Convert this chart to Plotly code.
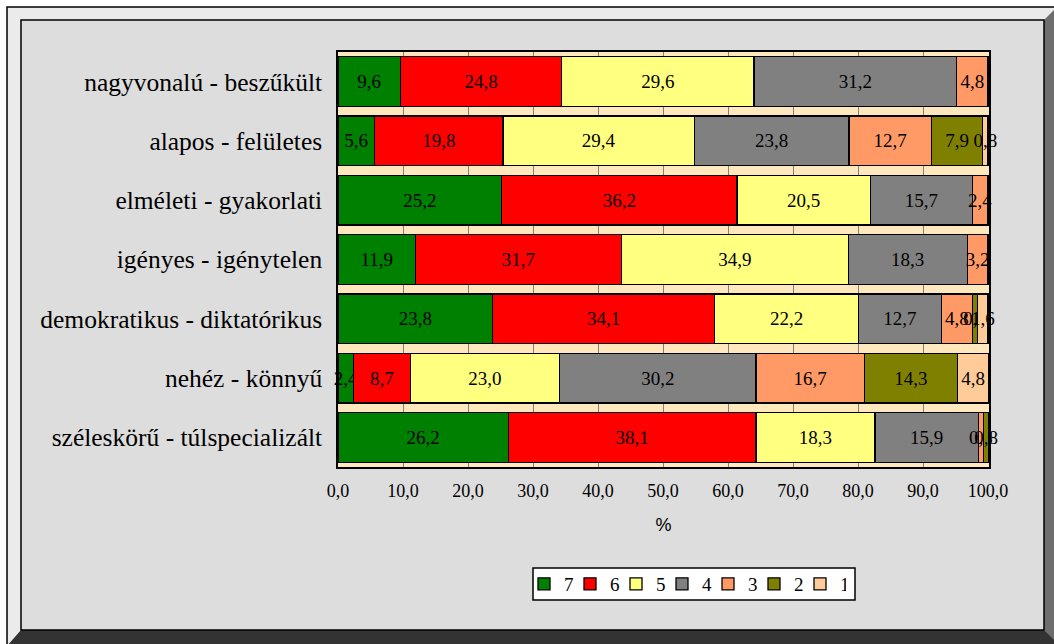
import plotly.graph_objects as go

# categories, top to bottom
categories = [
    "nagyvonalú - beszűkült",
    "alapos - felületes",
    "elméleti - gyakorlati",
    "igényes - igénytelen",
    "demokratikus - diktatórikus",
    "nehéz - könnyű",
    "széleskörű - túlspecializált",
]

# percentages per answer value (None = no bar)
s7 = [9.6, 5.6, 25.2, 11.9, 23.8, 2.4, 26.2]
s6 = [24.8, 19.8, 36.2, 31.7, 34.1, 8.7, 38.1]
s5 = [29.6, 29.4, 20.5, 34.9, 22.2, 23.0, 18.3]
s4 = [31.2, 23.8, 15.7, 18.3, 12.7, 30.2, 15.9]
s3 = [4.8, 12.7, 2.4, 3.2, 4.8, 16.7, 0.8]
s2 = [None, 7.9, None, None, 0.8, 14.3, 0.8]
s1 = [None, 0.8, None, None, 1.6, 4.8, None]

series = [("7", s7, "#008000"), ("6", s6, "#FF0000"), ("5", s5, "#FFFF80"),
          ("4", s4, "#808080"), ("3", s3, "#FF9966"), ("2", s2, "#808000"),
          ("1", s1, "#FFCC99")]

x_ticks = [0, 10, 20, 30, 40, 50, 60, 70, 80, 90, 100]

SERIF = "Liberation Serif"

# plot area in pixels (for the frame shapes)
PX0, PX1, PY0, PY1 = 338, 989, 52, 467


def fx(px):
    return (px - PX0) / (PX1 - PX0)


def fy(py):
    return (PY1 - py) / (PY1 - PY0)


def path(pts):
    return "M " + " L ".join(f"{fx(a)},{fy(b)}" for a, b in pts) + " Z"


fig = go.Figure()
for name, vals, color in series:
    labels = ["" if v is None else f"{v:.1f}".replace(".", ",") for v in vals]
    fig.add_trace(go.Bar(
        y=categories, x=vals, name=name, orientation="h",
        marker=dict(color=color, line=dict(color="black", width=1.3)),
        text=labels, textposition="inside", insidetextanchor="middle",
        textangle=0, textfont=dict(family=SERIF, size=19, color="black"),
        cliponaxis=False,
    ))

shapes = [
    # light outer bevel
    dict(type="path", xref="paper", yref="paper", layer="below",
         path=path([(7, 7), (1060, 7), (1060, 650), (7, 650)]),
         fillcolor="#EBEBEB", line=dict(color="black", width=1.5)),
    # right dark bevel
    dict(type="path", xref="paper", yref="paper", layer="below",
         path=path([(1044, 20), (1056, 8), (1056, 646), (1044, 630)]),
         fillcolor="#6E6E6E", line=dict(width=0)),
    # bottom dark bevel
    dict(type="path", xref="paper", yref="paper", layer="below",
         path=path([(21, 630), (1044, 630), (1060, 646), (7, 646)]),
         fillcolor="#333333", line=dict(width=0)),
    # inner panel
    dict(type="rect", xref="paper", yref="paper", layer="below",
         x0=fx(21), x1=fx(1044), y0=fy(630), y1=fy(20),
         fillcolor="#DDDDDD", line=dict(color="black", width=1.5)),
    # plot area
    dict(type="rect", xref="paper", yref="paper", layer="below",
         x0=0, x1=1, y0=0, y1=1, fillcolor="#FFE8BE", line=dict(width=0)),
    # legend box
    dict(type="rect", xref="paper", yref="paper", layer="below",
         x0=fx(533), x1=fx(855), y0=fy(600), y1=fy(568),
         fillcolor="white", line=dict(color="black", width=1.5)),
]

fig.update_layout(
    barmode="stack", bargap=0.16,
    width=1054, height=644,
    margin=dict(l=PX0, r=1054 - PX1, t=PY0, b=644 - PY1, autoexpand=False),
    paper_bgcolor="white", plot_bgcolor="rgba(0,0,0,0)",
    separators=",.",
    uniformtext=dict(minsize=19, mode="show"),
    font=dict(family=SERIF, color="black"),
    shapes=shapes,
    legend=dict(orientation="h", x=fx(685), xanchor="center",
                y=fy(584), yanchor="middle", bgcolor="rgba(0,0,0,0)",
                borderwidth=0,
                font=dict(family=SERIF, size=19), traceorder="normal",
                entrywidth=1, itemwidth=30, tracegroupgap=0),
    showlegend=True,
)
fig.update_xaxes(range=[0, 100.15], tickvals=x_ticks, tickformat=".1f",
                 tickfont=dict(family=SERIF, size=18), ticklabelstandoff=7,
                 showgrid=True, gridcolor="#808080", gridwidth=1,
                 showline=True, linecolor="black", linewidth=1.5, mirror=True,
                 zeroline=False, ticks="",
                 title=dict(text="%", font=dict(family="Liberation Sans", size=18),
                            standoff=18))
fig.update_yaxes(autorange="reversed", tickfont=dict(family=SERIF, size=25.5),
                 showline=True, linecolor="black", linewidth=1.5, mirror=True,
                 ticks="", ticklabelstandoff=9)

fig.write_html("out.html", config={"displayModeBar": False},
               post_script="document.body.style.margin='0';")
